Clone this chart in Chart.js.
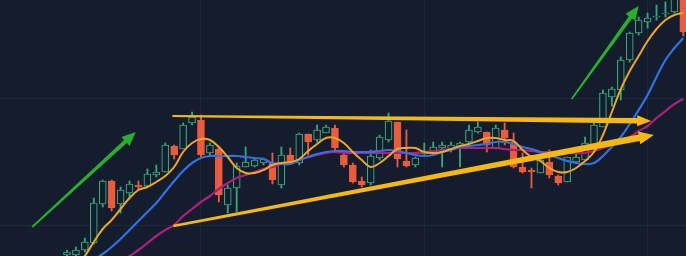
<!DOCTYPE html>
<html>
<head>
<meta charset="utf-8">
<script src="https://cdn.jsdelivr.net/npm/chart.js@4/dist/chart.umd.min.js"></script>
<style>
  html, body { margin: 0; padding: 0; background: #131d2e; }
  #wrap { width: 686px; height: 256px; }
</style>
</head>
<body>
<div id="wrap"><canvas id="chart" width="686" height="256"></canvas></div>
<script>
// Daily candles: open / high / low / close
const candleOpen  = [10.1,10.1,10.6,11.3,15.2,17.5,15.2,16.3,17.1,17.0,18.1,18.4,21.0,20.7,23.3,23.6,20.3,20.7,15.1,16.8,18.9,19.0,19.3,19.3,17.1,20.1,19.3,22.2,21.6,22.3,22.8,20.1,19.1,17.5,17.3,19.8,21.6,23.4,19.5,19.1,20.2,20.3,20.8,20.7,20.8,21.4,22.4,22.4,20.8,22.6,21.4,18.9,18.6,18.3,19.4,18.0,17.4,19.4,19.6,20.8,22.9,25.9,26.6,29.6,32.3,33.4,33.9,34.2,34.4,35.8];
const candleHigh  = [10.6,10.9,11.8,15.8,17.6,17.6,16.9,17.5,17.5,18.7,19.1,21.3,21.1,23.3,24.4,24.1,21.3,20.8,17.1,19.3,20.9,19.8,19.8,20.3,20.9,20.8,22.3,22.2,23.1,23.1,23.1,20.3,19.3,17.9,20.6,22.1,24.3,23.4,22.6,19.9,21.3,21.4,21.4,21.4,21.4,23.1,23.4,22.4,23.1,23.3,22.3,20.3,18.8,19.8,20.6,18.1,19.9,20.6,21.9,23.3,26.6,26.9,29.9,32.4,33.9,34.3,35.1,35.4,36.2,36.3];
const candleLow   = [9.9,10.0,10.4,11.2,14.9,14.5,14.3,15.9,16.6,16.9,17.9,18.4,19.7,20.7,23.1,19.8,20.1,15.4,14.3,14.4,18.9,18.9,19.1,17.2,16.8,19.3,19.1,20.1,21.4,22.3,20.4,18.9,17.3,16.9,17.1,19.6,21.4,18.9,18.9,18.9,20.1,20.1,18.9,20.4,18.9,21.3,22.3,20.4,20.7,21.1,18.8,18.3,16.8,18.3,17.8,17.1,17.4,19.3,19.6,20.6,22.9,25.0,25.6,29.4,32.1,32.8,33.6,33.9,34.3,32.0];
const candleClose = [10.4,10.6,11.4,15.3,17.5,14.8,16.6,17.2,16.9,18.2,18.4,21.1,20.1,23.1,23.9,20.1,21.1,16.1,16.8,19.0,19.4,19.6,19.7,17.6,20.1,19.4,22.2,21.4,22.6,22.9,20.8,19.1,17.4,17.1,20.0,21.9,23.5,19.7,19.0,19.8,20.4,20.9,21.1,21.1,21.3,22.6,22.9,21.1,22.8,21.8,18.9,18.4,18.4,19.6,18.1,17.3,19.9,19.9,21.3,23.1,26.3,26.7,29.6,32.3,33.6,33.8,34.0,34.3,35.8,32.4];

// Moving averages (fast / medium / slow)
const maFast   = [7.6,8.8,10.0,11.4,12.7,13.6,14.7,15.8,16.6,16.9,17.4,18.0,18.9,20.4,21.3,21.7,21.6,20.9,19.9,18.8,18.3,18.3,18.6,19.1,19.3,19.4,19.7,20.5,21.2,21.8,21.8,21.3,20.4,19.6,18.9,19.3,20.0,20.7,20.8,20.8,20.4,20.3,20.4,20.7,21.0,21.2,21.5,21.8,21.8,21.6,21.5,20.6,19.9,19.5,18.8,18.4,18.4,18.8,19.5,20.4,22.1,24.4,26.7,28.5,30.0,31.5,32.7,33.6,34.1,34.3];
const maMedium = [6.6,7.8,8.9,9.6,10.2,10.9,11.7,12.6,13.5,14.4,15.3,16.4,17.5,18.5,19.3,19.8,20.0,20.0,20.0,20.0,19.9,19.8,19.7,19.3,19.2,19.2,19.6,19.9,20.2,20.4,20.5,20.5,20.4,20.4,20.4,20.5,20.6,20.5,20.3,20.1,20.0,20.1,20.4,20.6,20.9,21.0,21.1,21.2,21.4,21.4,21.2,20.9,20.7,20.4,20.1,19.8,19.5,19.3,19.2,19.3,20.0,20.9,21.9,23.2,24.6,26.1,27.9,29.6,30.8,31.8];
const maSlow   = [3.6,4.6,5.8,6.8,7.8,8.6,9.4,10.0,10.6,11.3,12.0,12.6,13.1,14.0,14.7,15.4,16.0,16.7,17.3,17.8,18.1,18.4,18.7,18.9,19.2,19.4,19.6,19.9,20.1,20.3,20.4,20.3,20.3,20.3,20.3,20.3,20.3,20.3,20.3,20.3,20.4,20.5,20.6,20.7,20.8,20.8,20.8,20.8,20.8,20.7,20.6,20.6,20.5,20.4,20.4,20.4,20.3,20.3,20.3,20.5,20.8,21.1,21.5,21.9,22.5,23.0,23.8,24.5,25.2,25.7];

// Gridline positions (bar index / price)
const xGridTicks = [15, 40, 65];
const yGridTicks = [13.1, 25.75];

// Hand-drawn annotations: [bar index, price] from tail to tip
const upperTrend = [[11.8, 24.0], [65.4, 23.5]];
const lowerTrend = [[11.9, 13.0], [65.7, 22.1]];
const riseArrowA = [[-3.9, 12.9], [7.7, 22.4]];
const riseArrowB = [[56.5, 25.7], [64.0, 35.0]];

const BG = '#131d2e';
const UP = '#35a67d';
const DOWN = '#ec5b3b';
const rising = i => candleClose[i] >= candleOpen[i];

const arrowPlugin = {
  id: 'trendArrows',
  afterDatasetsDraw(chart) {
    const { ctx, scales: { x, y } } = chart;
    const draw = (pts, color, w0, w1, headLen, headHalf) => {
      const x0 = x.getPixelForValue(pts[0][0]), y0 = y.getPixelForValue(pts[0][1]);
      const x1 = x.getPixelForValue(pts[1][0]), y1 = y.getPixelForValue(pts[1][1]);
      const len = Math.hypot(x1 - x0, y1 - y0);
      const ux = (x1 - x0) / len, uy = (y1 - y0) / len;
      const nx = -uy, ny = ux;
      const bx = x1 - ux * headLen, by = y1 - uy * headLen;
      ctx.save();
      ctx.fillStyle = color;
      ctx.beginPath();
      ctx.moveTo(x0 + nx * w0 / 2, y0 + ny * w0 / 2);
      ctx.lineTo(bx + nx * w1 / 2, by + ny * w1 / 2);
      ctx.lineTo(bx + nx * headHalf, by + ny * headHalf);
      ctx.lineTo(x1, y1);
      ctx.lineTo(bx - nx * headHalf, by - ny * headHalf);
      ctx.lineTo(bx - nx * w1 / 2, by - ny * w1 / 2);
      ctx.lineTo(x0 - nx * w0 / 2, y0 - ny * w0 / 2);
      ctx.closePath();
      ctx.fill();
      ctx.restore();
    };
    draw(upperTrend, '#f8b80c', 2, 5.5, 14, 5.5);
    draw(lowerTrend, '#f8b80c', 2.5, 6.5, 15, 6.5);
    draw(riseArrowA, '#27b02c', 1.8, 4, 14, 6);
    draw(riseArrowB, '#27b02c', 1.8, 4, 14, 6);
  }
};

const xy = arr => arr.map((v, i) => ({ x: i, y: v }));

new Chart(document.getElementById('chart'), {
  type: 'bar',
  data: {
    datasets: [
      {
        type: 'line', label: 'MA fast', data: xy(maFast),
        borderColor: '#f2a51e', borderWidth: 2, pointRadius: 0, tension: 0.4, order: 0
      },
      {
        type: 'line', label: 'MA medium', data: xy(maMedium),
        borderColor: '#3470e4', borderWidth: 2.2, pointRadius: 0, tension: 0.4, order: 0
      },
      {
        type: 'line', label: 'MA slow', data: xy(maSlow),
        borderColor: '#b01f7c', borderWidth: 2.2, pointRadius: 0, tension: 0.4, order: 0
      },
      {
        label: 'Body',
        data: candleOpen.map((o, i) => ({ x: i, y: [o, candleClose[i]] })),
        backgroundColor: c => rising(c.dataIndex) ? BG : DOWN,
        borderColor: c => rising(c.dataIndex) ? UP : DOWN,
        borderWidth: 1.2, borderSkipped: false, barThickness: 7, grouped: false, order: 2
      },
      {
        label: 'Wick',
        data: candleLow.map((l, i) => ({ x: i, y: [l, candleHigh[i]] })),
        backgroundColor: c => rising(c.dataIndex) ? UP : DOWN,
        borderWidth: 0, barThickness: 1.2, grouped: false, order: 3
      }
    ]
  },
  options: {
    responsive: false,
    animation: false,
    layout: { padding: 0 },
    plugins: { legend: { display: false }, tooltip: { enabled: false } },
    scales: {
      x: {
        type: 'linear', min: -7.5, max: 69.3, offset: false,
        ticks: { display: false },
        grid: { color: '#1d293b', drawTicks: false, offset: false },
        border: { display: false },
        afterBuildTicks: s => { s.ticks = xGridTicks.map(v => ({ value: v })); }
      },
      y: {
        type: 'linear', min: 10, max: 35.6, beginAtZero: false,
        ticks: { display: false },
        grid: { color: '#1d293b', drawTicks: false },
        border: { display: false },
        afterBuildTicks: s => { s.ticks = yGridTicks.map(v => ({ value: v })); }
      }
    }
  },
  plugins: [arrowPlugin]
});
</script>
</body>
</html>
